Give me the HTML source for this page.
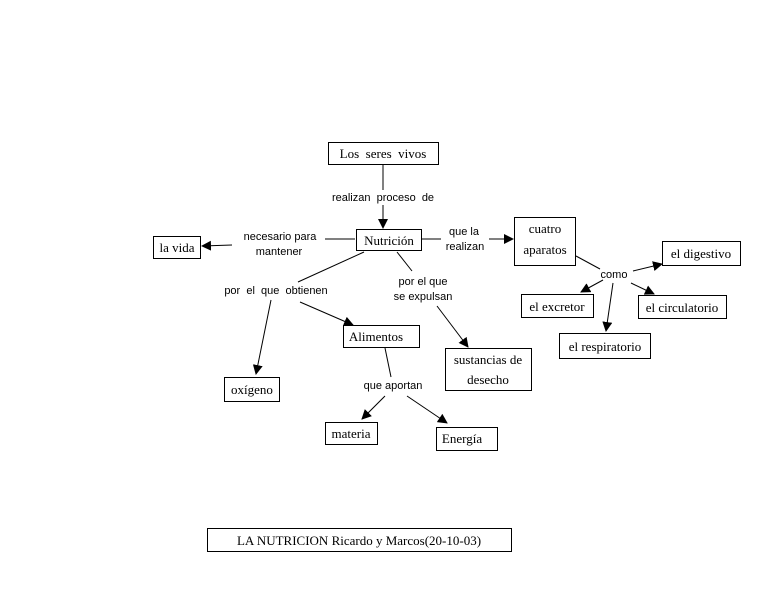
<!DOCTYPE html>
<html><head><meta charset="utf-8"><style>
html,body{margin:0;padding:0;background:#fff;}
svg{display:block;}
.b{fill:#fff;stroke:#000;stroke-width:1;}
.t{font-family:"Liberation Serif",serif;font-size:13px;fill:#000;}
.l{font-family:"Liberation Sans",sans-serif;font-size:11px;fill:#000;}
line{stroke:#000;stroke-width:1;}
</style></head><body>
<svg width="780" height="593" viewBox="0 0 780 593" xmlns="http://www.w3.org/2000/svg">
<defs><marker id="a" markerWidth="10" markerHeight="10" refX="9" refY="5" orient="auto" markerUnits="userSpaceOnUse"><path d="M0,0 L10,5 L0,10 z" fill="#000"/></marker></defs>
<g text-anchor="middle">
<!-- lines -->
<line x1="383" y1="164" x2="383" y2="190"/>
<line x1="383" y1="205" x2="383" y2="228" marker-end="url(#a)"/>
<line x1="355" y1="239" x2="325" y2="239"/>
<line x1="232" y1="245" x2="202" y2="246" marker-end="url(#a)"/>
<line x1="422" y1="239" x2="441" y2="239"/>
<line x1="489" y1="239" x2="513" y2="239" marker-end="url(#a)"/>
<line x1="364" y1="252" x2="298" y2="282"/>
<line x1="271" y1="300" x2="256" y2="374" marker-end="url(#a)"/>
<line x1="300" y1="302" x2="353" y2="325" marker-end="url(#a)"/>
<line x1="397" y1="252" x2="412" y2="271"/>
<line x1="437" y1="306" x2="468" y2="347" marker-end="url(#a)"/>
<line x1="385" y1="348" x2="391" y2="377"/>
<line x1="385" y1="396" x2="362" y2="419" marker-end="url(#a)"/>
<line x1="407" y1="396" x2="447" y2="423" marker-end="url(#a)"/>
<line x1="576" y1="256" x2="600" y2="269"/>
<line x1="633" y1="271" x2="662" y2="264" marker-end="url(#a)"/>
<line x1="603" y1="280" x2="581" y2="292" marker-end="url(#a)"/>
<line x1="631" y1="283" x2="654" y2="294" marker-end="url(#a)"/>
<line x1="613" y1="283" x2="606" y2="331" marker-end="url(#a)"/>
<!-- boxes -->
<rect class="b" x="328.5" y="142.5" width="110" height="22"/><text class="t" x="383" y="158">Los&#160; seres&#160; vivos</text>
<rect class="b" x="356.5" y="229.5" width="65" height="21"/><text class="t" x="389" y="245">Nutrición</text>
<rect class="b" x="153.5" y="236.5" width="47" height="22"/><text class="t" x="177" y="252">la vida</text>
<rect class="b" x="514.5" y="217.5" width="61" height="48"/><text class="t" x="545" y="233">cuatro</text><text class="t" x="545" y="254">aparatos</text>
<rect class="b" x="662.5" y="241.5" width="78" height="24"/><text class="t" x="701" y="258">el digestivo</text>
<rect class="b" x="521.5" y="294.5" width="72" height="23"/><text class="t" x="557" y="311">el excretor</text>
<rect class="b" x="638.5" y="295.5" width="88" height="23"/><text class="t" x="682" y="312">el circulatorio</text>
<rect class="b" x="559.5" y="333.5" width="91" height="25"/><text class="t" x="605" y="351">el respiratorio</text>
<rect class="b" x="343.5" y="325.5" width="76" height="22"/><text class="t" x="376" y="341">Alimentos</text>
<rect class="b" x="445.5" y="348.5" width="86" height="42"/><text class="t" x="488" y="364">sustancias de</text><text class="t" x="488" y="384">desecho</text>
<rect class="b" x="224.5" y="377.5" width="55" height="24"/><text class="t" x="252" y="394">oxígeno</text>
<rect class="b" x="325.5" y="422.5" width="52" height="22"/><text class="t" x="351" y="438">materia</text>
<rect class="b" x="436.5" y="427.5" width="61" height="23"/><text class="t" x="462" y="443">Energía</text>
<rect class="b" x="207.5" y="528.5" width="304" height="23"/><text class="t" x="359" y="545">LA NUTRICION Ricardo y Marcos(20-10-03)</text>
<!-- labels -->
<text class="l" x="383" y="201">realizan&#160; proceso&#160; de</text>
<text class="l" x="280" y="240">necesario para</text><text class="l" x="279" y="255">mantener</text>
<text class="l" x="464" y="235">que la</text><text class="l" x="465" y="250">realizan</text>
<text class="l" x="276" y="294">por&#160; el&#160; que&#160; obtienen</text>
<text class="l" x="423" y="285">por el que</text><text class="l" x="423" y="300">se expulsan</text>
<text class="l" x="614" y="278">como</text>
<text class="l" x="393" y="389">que aportan</text>
</g>
</svg>
</body></html>
